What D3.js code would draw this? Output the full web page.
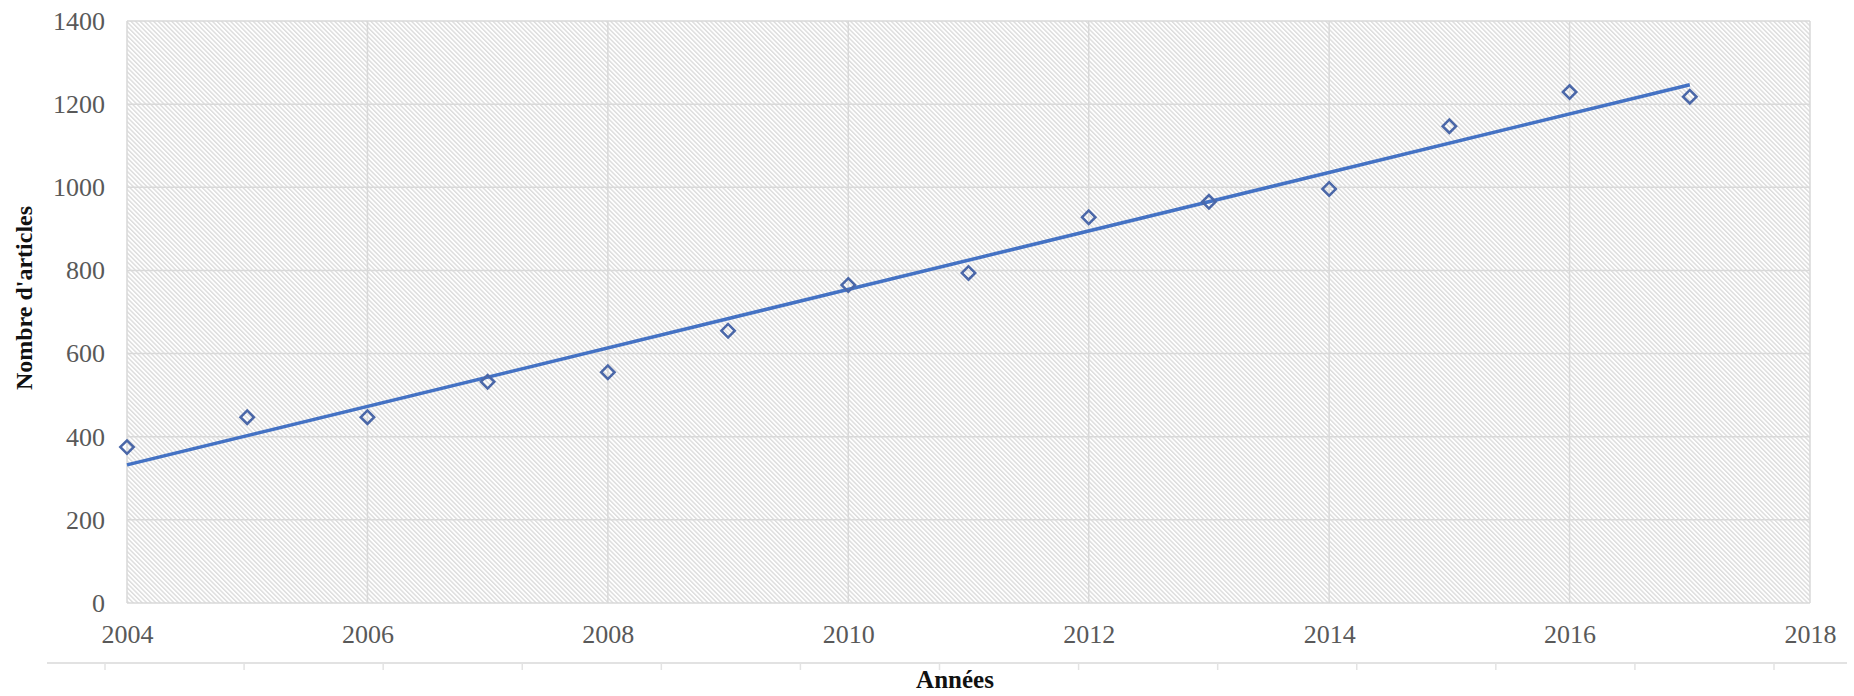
<!DOCTYPE html>
<html><head><meta charset="utf-8">
<script src="https://cdn.jsdelivr.net/npm/d3@7"></script>
<style>
html,body{margin:0;padding:0;background:#fff;}
svg{display:block;}
</style></head>
<body>
<svg id="chart" width="1854" height="696"></svg>
<script>
const years = [2004,2005,2006,2007,2008,2009,2010,2011,2012,2013,2014,2015,2016,2017];
const articles = [375,447,447,532,555,655,765,794,928,965,996,1147,1229,1218];
const xTicks = [2004,2006,2008,2010,2012,2014,2016,2018];
const yTicks = [0,200,400,600,800,1000,1200,1400];
const xTitle = "Années";
const yTitle = "Nombre d'articles";

(function(){
const svg = d3.select("#chart");
const pL = 127, pR = 1810, pT = 21, pB = 603;
const x = d3.scaleLinear().domain([2004, 2018]).range([pL, pR]);
const y = d3.scaleLinear().domain([0, 1400]).range([pB, pT]);

// hatch pattern
const defs = svg.append("defs");
const pat = defs.append("pattern").attr("id","hatch").attr("patternUnits","userSpaceOnUse")
  .attr("width",3.2).attr("height",3.2).attr("patternTransform","rotate(-45)");
pat.append("rect").attr("width",3.2).attr("height",3.2).attr("fill","#ffffff");
pat.append("line").attr("x1",0.7).attr("y1",0).attr("x2",0.7).attr("y2",3.2)
  .attr("stroke","#dcdcdc").attr("stroke-width",1.4);

svg.append("rect").attr("x",pL).attr("y",pT).attr("width",pR-pL).attr("height",pB-pT)
  .attr("fill","url(#hatch)");

// gridlines
const g = svg.append("g");
g.selectAll(".hg").data(yTicks).join("line")
  .attr("x1",pL).attr("x2",pR).attr("y1",d=>y(d)).attr("y2",d=>y(d))
  .attr("stroke","#d9d9d9").attr("stroke-width",1.5);
g.selectAll(".vg").data(xTicks).join("line")
  .attr("y1",pT).attr("y2",pB).attr("x1",d=>x(d)).attr("x2",d=>x(d))
  .attr("stroke","#d9d9d9").attr("stroke-width",1.5);

// y axis labels
const yAxis = d3.axisLeft(y).tickValues(yTicks).tickSize(0).tickPadding(22).tickFormat(d3.format("d"));
const ya = svg.append("g").attr("transform",`translate(${pL},0)`).call(yAxis);
ya.select(".domain").remove();
ya.selectAll("text").attr("font-family","'Liberation Serif', 'Times New Roman', serif")
  .attr("font-size",26).attr("fill","#595959");

// x axis labels
const xAxis = d3.axisBottom(x).tickValues(xTicks).tickSize(0).tickPadding(22).tickFormat(d3.format("d"));
const xa = svg.append("g").attr("transform",`translate(0,${pB})`).call(xAxis);
xa.select(".domain").remove();
xa.selectAll("text").attr("font-family","'Liberation Serif', 'Times New Roman', serif")
  .attr("font-size",26).attr("fill","#595959");

// decorative lower rule with ticks
const idx = d3.scaleLinear().domain([0,12]).range([105,1774]);
svg.append("line").attr("x1",47).attr("x2",1847).attr("y1",663).attr("y2",663)
  .attr("stroke","#d9d9d9").attr("stroke-width",1.5);
svg.append("g").selectAll("line").data(d3.range(13)).join("line")
  .attr("x1",d=>idx(d)).attr("x2",d=>idx(d)).attr("y1",663).attr("y2",670)
  .attr("stroke","#e3e3e3").attr("stroke-width",1.5);

// linear regression trend line
const mx = d3.mean(years), my = d3.mean(articles);
const sxy = d3.sum(years, (v,i)=>(v-mx)*(articles[i]-my));
const sxx = d3.sum(years, v=>(v-mx)*(v-mx));
const slope = sxy/sxx, icpt = my - slope*mx;
const ext = d3.extent(years);
svg.append("path").datum(ext)
  .attr("d", d3.line().x(d=>x(d)).y(d=>y(icpt+slope*d)))
  .attr("stroke","#4472c4").attr("stroke-width",3.5).attr("fill","none");

// diamond markers
const sym = d3.symbol().type(d3.symbolSquare).size(90);
svg.append("g").selectAll("path").data(years).join("path")
  .attr("d", sym)
  .attr("transform",(d,i)=>`translate(${x(d)},${y(articles[i])}) rotate(45)`)
  .attr("fill","none").attr("stroke","#4a67a8").attr("stroke-width",2.5);

// titles
svg.append("text").attr("x",955).attr("y",688).attr("text-anchor","middle")
  .attr("font-family","'Liberation Serif', 'Times New Roman', serif").attr("font-weight","bold")
  .attr("font-size",25).attr("fill","#111").text(xTitle);
svg.append("text").attr("transform","translate(32,298) rotate(-90)").attr("text-anchor","middle")
  .attr("font-family","'Liberation Serif', 'Times New Roman', serif").attr("font-weight","bold")
  .attr("font-size",24).attr("fill","#111").text(yTitle);
})();
</script>
</body></html>
